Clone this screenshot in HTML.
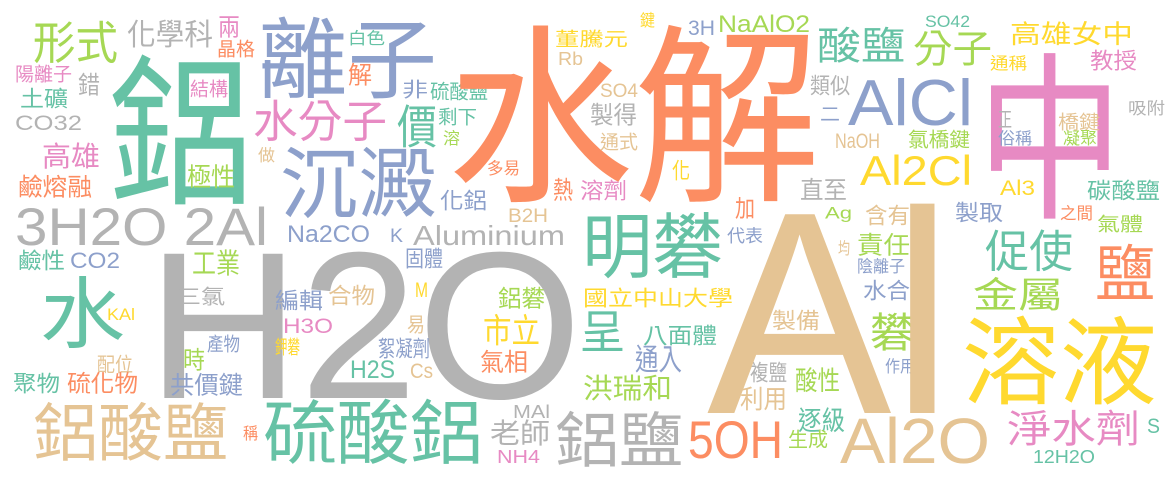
<!DOCTYPE html>
<html><head><meta charset="utf-8"><style>
html,body{margin:0;padding:0;background:#fff;width:1175px;height:482px;overflow:hidden}
svg{display:block}
text{font-family:"Liberation Sans","Noto Sans CJK TC",sans-serif}
</style></head><body>
<svg id="cloud" width="1175" height="482" viewBox="0 0 1175 482" xmlns="http://www.w3.org/2000/svg"></svg>
<script>
const C={t:"#66c2a5",o:"#fc8d62",b:"#8da0cb",p:"#e78ac3",g:"#a6d854",y:"#ffd92f",n:"#e5c494",r:"#b3b3b3"};
const words=[
["形式",33,21,118,62,"g"],["化學科",127,20,213,47,"r"],["兩",218,15,240,37,"p"],["晶格",217,40,255,57,"o"],
["陽離子",15,65,72,82,"p"],["錯",78,73,100,95,"r"],["土礦",20,88,68,108,"t"],["CO32",15,115,82,130,"r"],
["鋁",108,57,253,203,"t"],["結構",190,80,228,97,"p"],["極性",187,165,235,188,"g"],["做",258,147,275,162,"n"],
["高雄",42,143,100,168,"p"],["鹼熔融",18,175,92,197,"o"],["3H2O 2Al",15,207,268,245,"r"],
["鹼性",18,250,65,270,"t"],["CO2",70,252,120,268,"b"],["工業",192,250,240,275,"g"],["水",40,277,125,347,"t"],
["H2O",147,247,582,398,"r"],["三氯",177,287,225,305,"r"],["KAl",107,308,135,320,"y"],["產物",207,335,240,352,"b"],
["配位",97,355,133,373,"n"],["時",183,348,205,370,"g"],["聚物",13,373,60,393,"t"],["硫化物",67,372,138,393,"o"],
["共價鍵",170,373,243,395,"b"],["鋁酸鹽",33,403,228,460,"n"],["稱",243,425,258,440,"o"],["編輯",275,290,323,310,"b"],
["H3O",283,318,333,333,"p"],["鉀礬",275,338,300,355,"y"],
["離子",258,18,437,97,"b"],["白色",348,30,385,45,"t"],["解",348,63,372,85,"o"],["非",402,80,428,98,"b"],
["硫酸鹽",430,82,488,100,"t"],["水分子",253,100,387,140,"p"],["價",397,105,437,147,"t"],["剩下",438,108,477,125,"t"],
["溶",443,130,460,145,"g"],["沉澱",280,147,437,217,"b"],["多易",487,160,520,175,"o"],["化鋁",440,190,487,210,"b"],
["Na2CO",287,225,370,242,"b"],["K",390,228,403,242,"b"],["Aluminium",413,225,565,245,"r"],["固體",405,248,443,268,"b"],
["合物",328,285,375,305,"n"],["M",415,282,428,297,"y"],["鋁礬",498,287,545,308,"g"],["易",407,315,425,333,"n"],
["市立",483,315,540,345,"y"],["絮凝劑",378,338,430,358,"b"],["氣相",480,350,528,372,"o"],["H2S",350,360,395,378,"t"],
["Cs",410,363,433,378,"n"],["硫酸鋁",263,400,483,463,"t"],["MAl",513,405,550,418,"r"],["老師",490,420,550,445,"r"],
["NH4",497,450,540,463,"p"],["鋁鹽",555,412,683,466,"r"],["董騰元",555,30,628,47,"y"],["Rb",558,52,583,65,"n"],
["水解",447,27,820,200,"o"],["製得",590,103,637,125,"r"],["SO4",600,83,638,97,"n"],["通式",600,133,638,150,"n"],
["化",672,160,690,180,"y"],["溶劑",580,180,627,200,"p"],["熱",553,178,573,200,"o"],["B2H",508,208,548,222,"n"],
["明礬",582,213,723,277,"t"],["國立中山大學",583,288,733,307,"y"],["呈",580,310,625,352,"t"],["八面體",643,325,717,345,"t"],
["通入",635,345,682,372,"b"],["洪瑞和",583,375,672,400,"g"],["5OH",688,420,783,458,"o"],["鍵",640,12,655,27,"y"],
["3H",688,20,715,35,"b"],["NaAlO2",718,15,810,32,"g"],["類似",810,75,850,95,"r"],["二",820,105,840,122,"b"],
["AlCl",848,78,973,125,"b"],["NaOH",835,133,880,148,"n"],["Al2Cl",860,155,972,185,"y"],["直至",800,178,847,200,"r"],
["加",735,197,755,218,"o"],["Ag",825,207,852,222,"g"],["含有",865,205,910,225,"n"],["代表",727,227,763,243,"b"],
["均",838,240,850,255,"n"],["責任",857,233,910,255,"g"],["陰離子",857,258,905,273,"b"],["水合",863,280,910,300,"b"],
["製備",772,310,820,330,"n"],["礬",870,313,915,350,"g"],["複鹽",750,362,787,382,"r"],["酸性",795,368,840,392,"g"],
["利用",740,387,787,410,"n"],["逐級",798,408,845,432,"t"],["生成",788,430,828,448,"g"],["作用",885,358,915,373,"b"],
["Al",707,205,953,413,"n"],["Al2O",840,417,990,463,"n"],["酸鹽",817,27,905,62,"t"],["分子",913,30,992,65,"g"],
["SO42",925,15,970,27,"t"],["高雄女中",1010,22,1133,45,"y"],["通稱",990,55,1027,70,"y"],["教授",1090,50,1137,70,"p"],
["中",977,55,1123,217,"p"],["吸附",1128,100,1165,115,"r"],["正",998,110,1012,128,"r"],["俗稱",998,130,1032,145,"b"],
["橋鍵",1058,113,1100,130,"n"],["凝聚",1063,130,1097,145,"g"],["氯橋鍵",908,130,970,148,"g"],["Al3",1000,180,1035,195,"y"],
["碳酸鹽",1087,180,1160,200,"t"],["製取",955,202,1003,222,"b"],["之間",1060,205,1093,220,"o"],["氣體",1097,215,1143,232,"g"],
["促使",985,230,1073,270,"t"],["鹽",1095,245,1155,300,"o"],["金屬",973,278,1063,310,"g"],["溶液",962,317,1157,403,"y"],
["淨水劑",1007,410,1140,445,"p"],["S",1147,418,1160,433,"t"],["12H2O",1033,450,1095,463,"t"]
];
const svg=document.getElementById('cloud');
const NS="http://www.w3.org/2000/svg";
words.forEach(w=>{
  const [txt,l,t,r,b,c]=w;
  const h=b-t;
  const latin=/^[A-Za-z0-9 ]+$/.test(txt);
  let fs,y;
  if(latin){fs=h/0.72;y=b;if(/g/.test(txt)){fs=h/0.92;y=b-0.2*fs;}}
  else{fs=h/0.9;y=b-0.07*fs;}
  const el=document.createElementNS(NS,'text');
  el.setAttribute('x',l);el.setAttribute('y',y.toFixed(1));
  el.setAttribute('font-size',fs.toFixed(1));
  el.setAttribute('fill',C[c]);
  el.setAttribute('textLength',r-l);
  el.setAttribute('lengthAdjust','spacingAndGlyphs');
  
  
  el.textContent=txt;
  svg.appendChild(el);
});
</script>
</body></html>
